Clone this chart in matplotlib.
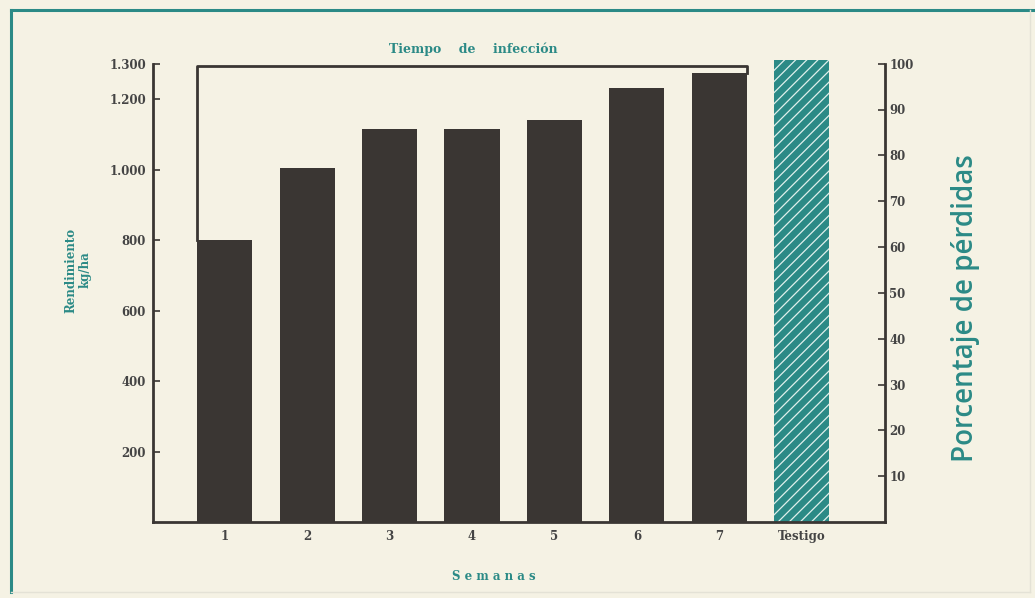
import matplotlib.pyplot as plt
from matplotlib.lines import Line2D
import numpy as np

# datos
semanas = ["1", "2", "3", "4", "5", "6", "7", "Testigo"]
rendimiento = [800, 1005, 1115, 1115, 1140, 1232, 1275, 1316]   # kg/ha
left_ticks = [200, 400, 600, 800, 1000, 1200, 1300]
left_labels = ["200", "400", "600", "800", "1.000", "1.200", "1.300"]
right_ticks = [10, 20, 30, 40, 50, 60, 70, 80, 90, 100]

bg = "#f5f2e4"
dark = "#3a3633"
teal = "#2b8a86"
serif = "DejaVu Serif"
plt.rcParams["hatch.linewidth"] = 0.9

fig = plt.figure(figsize=(10.35, 5.98), dpi=100)
fig.patch.set_facecolor(bg)

# marco exterior
fig.add_artist(Line2D([11/1035, 11/1035], [1 - 592/598, 1 - 10/598], color=teal, lw=2.2))
fig.add_artist(Line2D([11/1035, 1], [1 - 10/598, 1 - 10/598], color=teal, lw=2.2))
fig.add_artist(Line2D([11/1035, 1030/1035], [1 - 592/598, 1 - 592/598], color="#e4e2d6", lw=1))
fig.add_artist(Line2D([1030/1035, 1030/1035], [1 - 592/598, 1 - 10/598], color="#e4e2d6", lw=1))

ax = fig.add_axes([153/1035, 1 - 522/598, 732/1035, 462/598])
ax.set_facecolor(bg)
x = np.arange(len(semanas))
w = 0.67
colors = [dark] * (len(semanas) - 1) + [teal]
bars = ax.bar(x, rendimiento, width=w, color=colors, edgecolor=colors, linewidth=0)
bars[-1].set_hatch("///")
bars[-1].set_edgecolor("#dff0ec")

ax.set_xlim(-0.87, 8.01)
ax.set_ylim(0, 1311)
ax.set_xticks(x)
ax.set_xticklabels(semanas, fontfamily=serif, fontsize=8.5, fontweight="bold", color="#444")
ax.tick_params(axis="x", length=0, pad=6)
ax.set_yticks(left_ticks)
ax.set_yticklabels(left_labels, fontfamily=serif, fontsize=8.5, fontweight="bold", color="#444")
ax.tick_params(axis="y", direction="in", length=5, width=1.2, color=dark, pad=5)
ax.spines["top"].set_visible(False)
ax.spines["right"].set_visible(False)
ax.spines["left"].set_bounds(0, 1300)
for s in ["left", "bottom"]:
    ax.spines[s].set_linewidth(2)
    ax.spines[s].set_color(dark)

# corchete "Tiempo de infeccion"
top = 1293
ax.plot([x[0] - w/2, x[0] - w/2, x[6] + w/2, x[6] + w/2],
        [rendimiento[0], top, top, rendimiento[6]], color=dark, lw=2, solid_joinstyle="round")
ax.text(3.02, 1322, "Tiempo    de    infección", ha="center", va="bottom",
        fontfamily=serif, fontsize=9, fontweight="bold", color=teal)

ax2 = ax.twinx()
ax2.set_ylim(0, 100.8)
ax2.set_yticks(right_ticks)
ax2.set_yticklabels([str(t) for t in right_ticks], fontfamily=serif, fontsize=8.5,
                    fontweight="bold", color="#444")
ax2.tick_params(axis="y", direction="in", length=5, width=1.2, color=dark, pad=3)
for s in ["top", "left", "bottom"]:
    ax2.spines[s].set_visible(False)
ax2.spines["right"].set_bounds(0, 100)
ax2.spines["right"].set_linewidth(2)
ax2.spines["right"].set_color(dark)

fig.text(494/1035, 1 - 576/598, "S e m a n a s", ha="center", va="center",
         fontfamily=serif, fontsize=8.5, fontweight="bold", color=teal)
fig.text(78/1035, 1 - 270/598, "Rendimiento\nkg/ha", ha="center", va="center", rotation=90,
         fontfamily=serif, fontsize=8.5, fontweight="bold", color=teal, linespacing=1.1)
fig.text(965/1035, 1 - 308/598, "Porcentaje de pérdidas", ha="center", va="center", rotation=90,
         fontfamily="Open Sans", fontsize=20, fontweight="semibold", color=teal)

fig.savefig("out.png", dpi=100, facecolor=bg)
